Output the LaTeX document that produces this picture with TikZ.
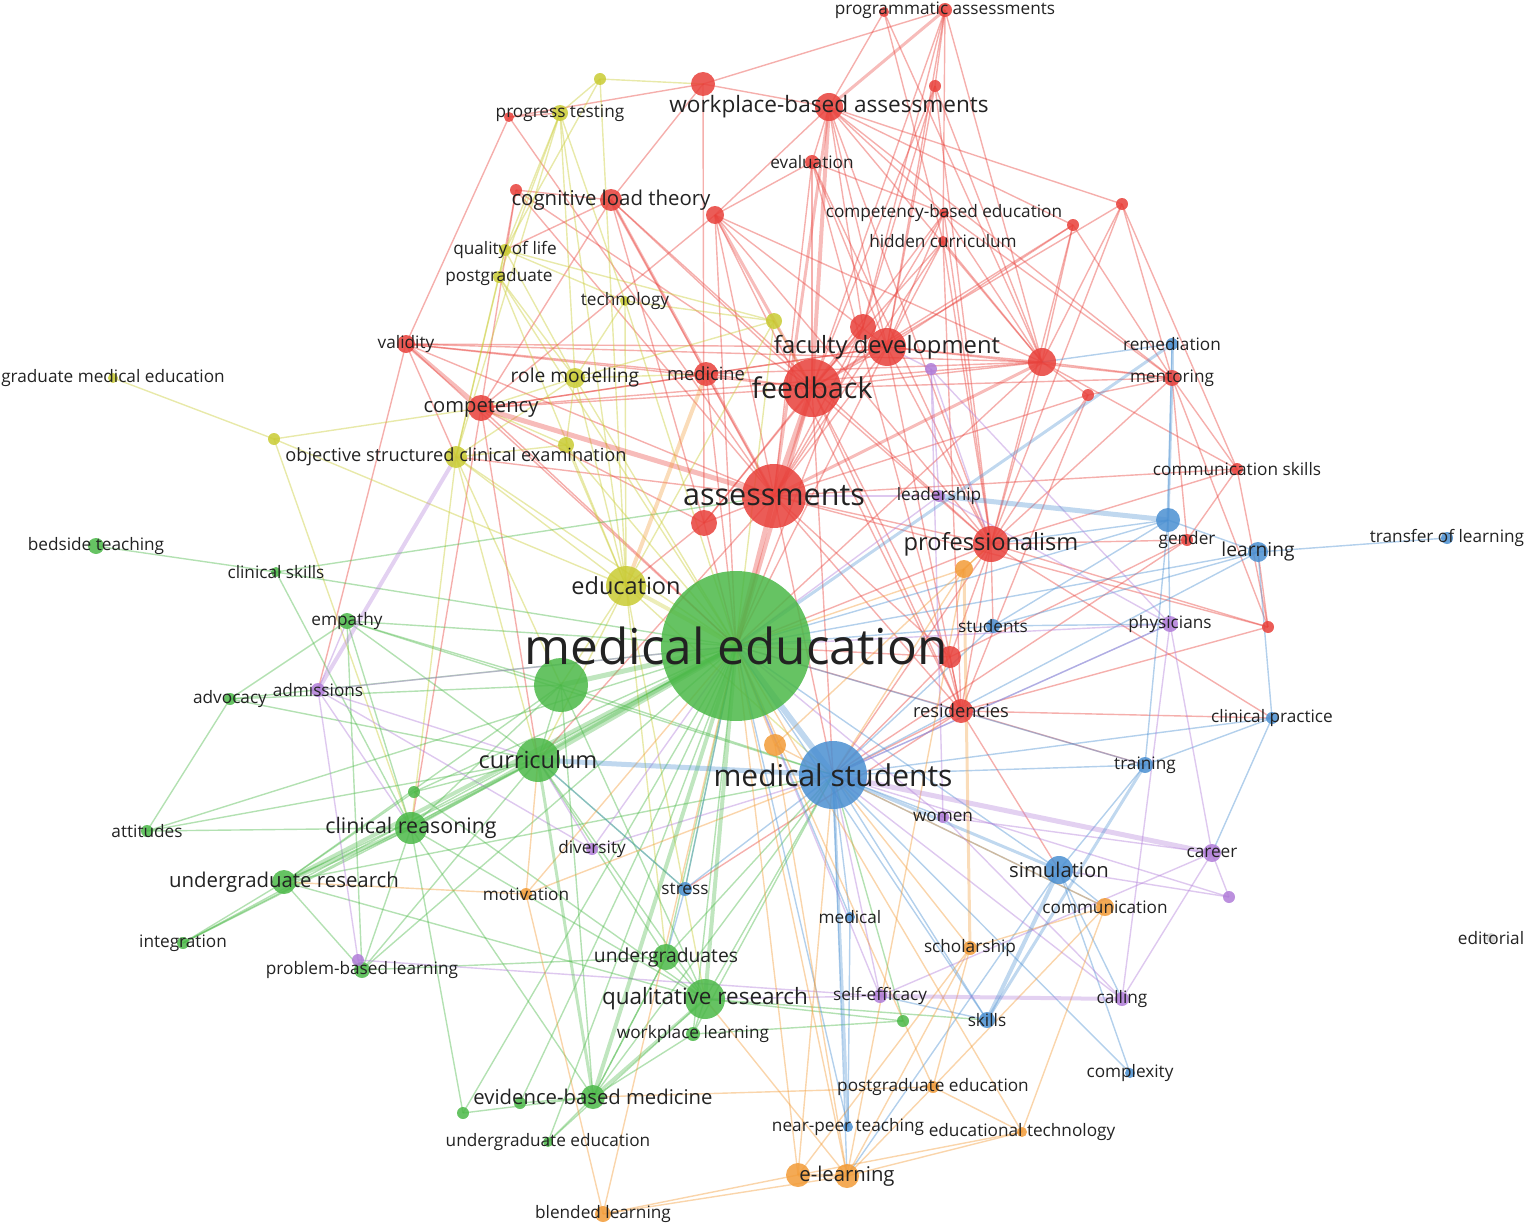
\documentclass[tikz,border=0pt]{standalone}
\usepackage{fontspec}
\setmainfont{Open Sans}
\usepackage{tikz}
\usetikzlibrary{backgrounds}
\definecolor{vRed}{HTML}{E8403A}
\definecolor{vGreen}{HTML}{4BB848}
\definecolor{vYellow}{HTML}{C9CB33}
\definecolor{vBlue}{HTML}{4A8FD1}
\definecolor{vPurple}{HTML}{B07CD8}
\definecolor{vOrange}{HTML}{F29B37}
\definecolor{vGray}{HTML}{D0D0D0}
\definecolor{txt}{HTML}{222222}
\tikzset{
  kw/.style    = {circle,inner sep=0pt,draw=none,fill opacity=0.85},
  lbl/.style   = {text=txt,inner sep=0pt},
  link/.style  = {draw opacity=0.42,line width=1.4pt},
  heavy/.style = {draw opacity=0.35}
}
\newcommand{\fsz}[1]{\fontsize{#1}{#1}\selectfont}

\begin{document}
\begin{tikzpicture}[x=1pt,y=-1pt]
  \useasboundingbox (0,0) rectangle (1524,1228);
  % keywords
  \foreach \nm/\x/\y/\rad/\col in {
    progassess/945/10/7/vRed, r1/884/12/5/vRed, wba/829/107/14/vRed, r2/703/84/12/vRed,
    r3/935/86/6/vRed, r4/509/117/5/vRed, evaluation/812/162/7/vRed, clt/611/200/11/vRed,
    r5/516/190/6/vRed, r6/715/215/9/vRed, cbe/944/213/5/vRed, hidden/943/241/5/vRed,
    r7/1073/225/6/vRed, r8/1122/204/6/vRed, r9/863/327/13/vRed, facdev/887/347/19/vRed,
    r10/1042/362/14/vRed, mentoring/1172/378/8/vRed, r11/1088/395/6/vRed, validity/406/344/9/vRed,
    medicine/706/374/12/vRed, feedback/812/388/29/vRed, competency/481/408/13/vRed,
    commskills/1237/469/6/vRed, assess/774/496/32/vRed, r12/704/523/13/vRed,
    gender/1187/540/6/vRed, prof/991/544/18/vRed, r13/1268/627/6/vRed, r14/950/657/11/vRed,
    residencies/961/711/12/vRed,
    y1/600/79/6/vYellow, progtest/560/113/8/vYellow, qol/505/250/6/vYellow, postgrad/499/277/6/vYellow,
    technology/625/301/5/vYellow, y2/774/321/8/vYellow, rolemod/575/378/10/vYellow, gme/113/378/5/vYellow,
    y3/274/439/6/vYellow, y4/566/445/8/vYellow, osce/456/457/11/vYellow, education/626/586/20/vYellow,
    bedside/96/546/8/vGreen, clinskills/276/572/5/vGreen, empathy/347/621/8/vGreen,
    meded/736/646/75/vGreen, g1/561/685/27/vGreen, advocacy/230/699/6/vGreen,
    curriculum/538/760/22/vGreen, g2/414/792/6/vGreen, attitudes/147/831/6/vGreen,
    clinreason/411/828/16/vGreen, ugresearch/284/882/12/vGreen, integration/183/943/6/vGreen,
    pbl/362/970/8/vGreen, undergrads/666/957/13/vGreen, qualres/705/999/20/vGreen,
    g3/903/1021/6/vGreen, wpl/693/1034/7/vGreen, ebm/593/1097/12/vGreen, g4/520/1103/6/vGreen,
    g5/463/1113/6/vGreen, ugedu/548/1142/5/vGreen,
    remediation/1172/344/6/vBlue, b1/1168/520/12/vBlue, learning/1258/552/10/vBlue,
    transfer/1447/538/6/vBlue, students/993/626/7/vBlue, clinpractice/1272/718/6/vBlue,
    medstud/833/775/34/vBlue, training/1145/765/8/vBlue, stress/685/889/7/vBlue,
    simulation/1059/870/14/vBlue, medical/850/917/5/vBlue, skills/987/1020/8/vBlue,
    complexity/1130/1073/5/vBlue, nearpeer/848/1127/5/vBlue,
    p1/931/369/6/vPurple, leadership/939/496/6/vPurple, physicians/1170/624/8/vPurple,
    admissions/318/690/7/vPurple, women/943/817/6/vPurple, diversity/592/849/6/vPurple,
    career/1212/853/9/vPurple, p2/1229/897/6/vPurple, pblp/358/960/6/vPurple,
    selfeff/880/996/7/vPurple, calling/1122/999/7/vPurple,
    o1/964/569/9/vOrange, o2/775/745/11/vOrange, motivation/526/894/6/vOrange,
    communication/1105/907/9/vOrange, scholarship/970/948/7/vOrange, pgedu/933/1087/6/vOrange,
    edtech/1022/1132/5/vOrange, elearn/847/1176/12/vOrange, o3/798/1175/12/vOrange,
    blended/603/1214/8/vOrange, editorial/1491/938/5/vGray}
    \node[kw,fill=\col,minimum size=2*\rad] (\nm) at (\x,\y) {};

  % co-occurrence links
  \begin{pgfonlayer}{background}
    \foreach \a/\b in {
      progassess/r2, progassess/r9, progassess/facdev, progassess/r10, progassess/hidden,
      progassess/feedback, progassess/r3, r1/hidden, r1/r10, r1/wba,
      wba/r2, wba/evaluation, wba/facdev, wba/r9, wba/r7, wba/r8, wba/mentoring, wba/r10,
      wba/cbe, wba/prof, r2/r4, r2/r12, r2/clt, r3/r9, r3/facdev, r3/prof, r3/feedback, r3/r10,
      evaluation/facdev, evaluation/feedback, evaluation/assess, evaluation/r6, evaluation/cbe,
      evaluation/prof, evaluation/residencies, clt/r5, clt/feedback, clt/competency, clt/medicine,
      clt/r12, clt/qol, clt/prof, r5/qol, r5/competency, r5/assess, r5/feedback,
      r4/validity, r4/assess, r4/progtest, r6/wba, r6/assess, r6/facdev, r6/prof, r6/r10,
      r6/meded, r6/competency, r6/residencies, cbe/facdev, cbe/feedback, cbe/assess, cbe/prof,
      cbe/r10, cbe/mentoring, hidden/facdev, hidden/prof, hidden/assess, hidden/r10,
      hidden/residencies, hidden/feedback, r7/r10, r7/prof, r7/facdev, r7/mentoring, r7/feedback,
      r8/r10, r8/mentoring, r8/commskills, r8/feedback, r8/prof, r9/feedback, r9/assess,
      r9/meded, r9/r12, facdev/feedback, facdev/assess, facdev/r10, facdev/mentoring,
      facdev/prof, facdev/medicine, facdev/competency, facdev/residencies, facdev/meded,
      facdev/validity, r10/feedback, r10/mentoring, r10/r11, r10/prof, r10/competency,
      r10/meded, r10/commskills, mentoring/commskills, mentoring/r13, mentoring/r11,
      mentoring/prof, mentoring/gender, mentoring/feedback, r11/prof, r11/assess,
      r11/residencies, validity/assess, validity/feedback, validity/osce, validity/medicine,
      validity/r10, validity/meded, validity/admissions, medicine/feedback, medicine/assess,
      medicine/competency, medicine/meded, medicine/r10, feedback/competency, feedback/prof,
      feedback/residencies, feedback/r14, feedback/medstud, feedback/r12, competency/meded,
      competency/curriculum, competency/clinreason, competency/r12, commskills/r13,
      commskills/prof, commskills/gender, commskills/assess, assess/r12, assess/prof,
      assess/residencies, assess/r14, assess/medstud, assess/curriculum, assess/osce,
      r12/meded, r12/education, gender/prof, gender/r14, gender/medstud, prof/residencies,
      prof/r14, prof/students, prof/r13, prof/meded, prof/medstud, prof/clinpractice,
      r13/residencies, r13/assess, r13/learning, r14/meded, r14/residencies, r14/medstud,
      residencies/meded, residencies/medstud, residencies/simulation, residencies/training,
      residencies/clinpractice, residencies/stress}
      \draw[link,vRed] (\a.center) -- (\b.center);
    \foreach \a/\b in {
      y1/progtest, y1/r2, y1/qol, y1/education, progtest/qol, progtest/postgrad, progtest/osce,
      progtest/rolemod, progtest/technology, progtest/education, qol/postgrad, qol/osce,
      qol/rolemod, qol/technology, qol/y2, postgrad/osce, postgrad/education, postgrad/rolemod,
      postgrad/meded, technology/rolemod, technology/y2, technology/education, technology/meded,
      y2/education, y2/meded, y2/feedback, y2/rolemod, rolemod/education, rolemod/meded,
      rolemod/competency, rolemod/osce, rolemod/medicine, gme/y3, y3/competency, y3/education,
      y3/clinreason, y4/education, y4/meded, y4/osce, y4/rolemod, y4/competency,
      osce/education, osce/meded, osce/curriculum, osce/clinreason, osce/g1,
      education/curriculum, education/medstud, education/g1, education/qualres,
      education/undergrads}
      \draw[link,vYellow] (\a.center) -- (\b.center);
    \foreach \a/\b in {
      bedside/clinskills, clinskills/meded, clinskills/assess, clinskills/clinreason,
      empathy/meded, empathy/advocacy, empathy/g1, empathy/curriculum, empathy/clinreason,
      empathy/pbl, empathy/medstud, advocacy/attitudes, advocacy/meded, advocacy/curriculum,
      advocacy/g1, attitudes/curriculum, attitudes/meded, attitudes/clinreason,
      g1/curriculum, g1/clinreason, g1/ugresearch, g1/qualres, g1/ebm, g1/medstud,
      curriculum/clinreason, curriculum/ugresearch, curriculum/undergrads, curriculum/qualres,
      curriculum/stress, g2/ugresearch, g2/meded, g2/qualres, g2/curriculum, clinreason/pbl,
      clinreason/ebm, clinreason/integration, clinreason/g5, clinreason/qualres,
      ugresearch/integration, ugresearch/pbl, ugresearch/qualres, ugresearch/medstud,
      integration/meded, integration/curriculum, pbl/curriculum, pbl/meded, pbl/undergrads,
      undergrads/meded, undergrads/qualres, undergrads/medstud, undergrads/ebm,
      qualres/medstud, qualres/wpl, qualres/g3, qualres/skills, g3/medstud, g3/wpl,
      wpl/meded, wpl/ebm, wpl/medstud, ebm/ugedu, ebm/g4, ebm/undergrads, ebm/medstud,
      g4/meded, g5/meded, g5/ebm, ugedu/meded, ugedu/qualres, meded/stress}
      \draw[link,vGreen] (\a.center) -- (\b.center);
    \foreach \a/\b in {
      remediation/b1, remediation/r10, b1/meded, b1/prof, b1/learning, b1/physicians,
      b1/training, b1/students, learning/transfer, learning/clinpractice, learning/students,
      learning/meded, learning/medstud, students/meded, students/medstud, students/physicians,
      clinpractice/training, clinpractice/medstud, clinpractice/career, medstud/training,
      medstud/skills, medstud/women, medstud/stress, medstud/medical, medstud/complexity,
      medstud/communication, medstud/physicians, medstud/elearn, training/simulation,
      training/meded, stress/curriculum, stress/meded, stress/undergrads, simulation/meded,
      simulation/communication, simulation/calling, simulation/complexity, simulation/elearn,
      medical/nearpeer, medical/meded, skills/selfeff, skills/meded, nearpeer/meded}
      \draw[link,vBlue] (\a.center) -- (\b.center);
    \foreach \a/\b in {
      p1/leadership, p1/physicians, p1/facdev, p1/prof, p1/women, leadership/meded,
      leadership/assess, leadership/physicians, physicians/career, physicians/medstud,
      physicians/meded, physicians/calling, admissions/meded, admissions/pblp,
      admissions/empathy, admissions/curriculum, admissions/clinreason, women/career,
      women/meded, women/calling, diversity/meded, diversity/medstud, diversity/curriculum,
      diversity/admissions, career/p2, career/calling, career/selfeff, p2/medstud,
      p2/simulation, pblp/selfeff, pblp/pbl, selfeff/medstud, selfeff/qualres, selfeff/meded,
      calling/medstud}
      \draw[link,vPurple] (\a.center) -- (\b.center);
    \foreach \a/\b in {
      o1/prof, o1/meded, o1/medstud, o1/elearn, o2/meded, o2/medstud, o2/prof, o2/elearn,
      motivation/meded, motivation/curriculum, motivation/ugresearch, motivation/medstud,
      motivation/blended, communication/medstud, communication/edtech, communication/pgedu,
      communication/scholarship, scholarship/medstud, scholarship/elearn, scholarship/pgedu,
      pgedu/elearn, pgedu/edtech, pgedu/meded, pgedu/ebm, edtech/elearn, edtech/o3,
      edtech/meded, elearn/blended, elearn/meded, elearn/qualres, o3/blended, o3/meded,
      o3/medstud, o3/scholarship, blended/meded}
      \draw[link,vOrange] (\a.center) -- (\b.center);
    % strong links
    \foreach \a/\b/\w/\col in {
      meded/curriculum/6/vGreen, meded/g1/5/vGreen, meded/medstud/6/vBlue,
      meded/assess/5/vRed, meded/feedback/4/vRed, assess/feedback/6/vRed,
      competency/assess/5/vRed, validity/competency/4/vRed, clt/assess/3/vRed,
      wba/progassess/3/vRed, wba/feedback/4/vRed, wba/assess/3/vRed,
      medicine/education/4/vOrange, r6/feedback/3/vRed, r10/assess/3/vRed,
      meded/education/4/vYellow, meded/clinreason/4/vGreen, meded/ugresearch/4/vGreen,
      clinreason/ugresearch/4/vGreen, meded/ebm/4/vGreen, meded/qualres/4/vGreen,
      curriculum/medstud/5/vBlue, medstud/career/5/vPurple, medstud/simulation/3/vBlue,
      b1/leadership/5/vBlue, remediation/mentoring/3/vBlue, mentoring/b1/3/vBlue,
      remediation/meded/3/vBlue, selfeff/calling/4/vPurple, skills/simulation/4/vBlue,
      training/skills/3/vBlue, medstud/nearpeer/3/vBlue, osce/admissions/4/vPurple,
      o1/scholarship/3/vOrange, elearn/o3/3/vOrange, ebm/curriculum/3/vGreen,
      qualres/ebm/3/vGreen}
      \draw[heavy,draw=\col,line width=\w] (\a.center) -- (\b.center);
  \end{pgfonlayer}

  % labels
  \foreach \nm/\txt/\s in {
    progassess/programmatic assessments/17.2, wba/workplace-based assessments/22.6,
    evaluation/evaluation/17.2, clt/cognitive load theory/20.4, cbe/competency-based education/17.2,
    hidden/hidden curriculum/17.2, facdev/faculty development/23.8, mentoring/mentoring/17.2,
    remediation/remediation/17.2, validity/validity/17.2, medicine/medicine/18.3,
    feedback/feedback/28.5, competency/competency/20.2, commskills/communication skills/17.2,
    assess/assessments/30.5, leadership/leadership/17.2, gender/gender/17.2,
    prof/professionalism/23.6, learning/learning/19.2, transfer/transfer of learning/17.2,
    residencies/residencies/18.3, progtest/progress testing/17.2, qol/quality of life/17.2,
    postgrad/postgraduate/17.2, technology/technology/17.2, rolemod/role modelling/19.2,
    gme/graduate medical education/17.2, osce/objective structured clinical examination/18.2,
    education/education/23.5, bedside/bedside teaching/17.2, clinskills/clinical skills/17.2,
    empathy/empathy/17.2, meded/medical education/49.5, advocacy/advocacy/17.2,
    admissions/admissions/17.2, curriculum/curriculum/23.5, attitudes/attitudes/17.2,
    clinreason/clinical reasoning/21.4, ugresearch/undergraduate research/20.4,
    integration/integration/17.2, pbl/problem-based learning/17.2, undergrads/undergraduates/19.3,
    qualres/qualitative research/22.5, wpl/workplace learning/17.2, ebm/evidence-based medicine/20.3,
    ugedu/undergraduate education/17.2, students/students/17.2, physicians/physicians/17.2,
    clinpractice/clinical practice/17.2, medstud/medical students/30, training/training/17.2,
    women/women/17.2, diversity/diversity/17.2, career/career/17.2, simulation/simulation/20.3,
    motivation/motivation/17.2, stress/stress/17.2, communication/communication/17.2,
    medical/medical/17.2, editorial/editorial/17.2, scholarship/scholarship/17.2,
    selfeff/self-efficacy/17.2, calling/calling/17.2, skills/skills/17.2, complexity/complexity/17.2,
    pgedu/postgraduate education/17.2, nearpeer/near-peer teaching/17.2,
    edtech/educational technology/17.2, elearn/e-learning/20.3, blended/blended learning/17.2}
    \node[lbl,font=\fsz{\s}] (\nm-l) at (\nm) {\txt};
\end{tikzpicture}
\end{document}
